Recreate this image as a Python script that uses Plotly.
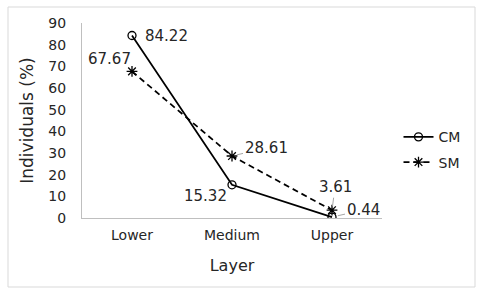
import plotly.graph_objects as go

layers = ["Lower", "Medium", "Upper"]
cm_values = [84.22, 15.32, 0.44]
sm_values = [67.67, 28.61, 3.61]
y_ticks = [0, 10, 20, 30, 40, 50, 60, 70, 80, 90]

FONT = "DejaVu Sans, Verdana, sans-serif"

fig = go.Figure()
fig.add_trace(go.Scatter(
    x=layers, y=cm_values, name="CM", mode="lines+markers", legendgroup="cm",
    line=dict(color="black", width=1.75),
    marker=dict(symbol="circle-open", size=8, color="black", line=dict(width=1.3)),
))
fig.add_trace(go.Scatter(
    x=layers, y=sm_values, name="SM", mode="lines+markers", legendgroup="sm",
    line=dict(color="black", width=1.75, dash="6px,4px"),
    marker=dict(symbol="asterisk-open", size=9, color="black", line=dict(width=1.3, color="black")),
))

annotations = []
# CM labels
cm_offsets = [dict(xshift=34, yshift=0), dict(xshift=-27, yshift=-11), None]
for i, (cat, v) in enumerate(zip(layers, cm_values)):
    txt = f"{v:.2f}"
    if cm_offsets[i] is not None:
        annotations.append(dict(x=cat, y=v, text=txt, showarrow=False, **cm_offsets[i]))
    else:
        annotations.append(dict(x=cat, y=v, text=txt, showarrow=True, ax=31, ay=-7,
                                arrowhead=0, arrowwidth=1, arrowcolor="#a6a6a6", standoff=6))
# SM labels
sm_specs = [dict(showarrow=False, xshift=-23, yshift=12),
            dict(showarrow=True, ax=34, ay=-8, arrowhead=0, arrowwidth=1, arrowcolor="#a6a6a6", standoff=5),
            dict(showarrow=True, ax=3, ay=-23, arrowhead=0, arrowwidth=1, arrowcolor="#a6a6a6", standoff=4)]
for cat, v, spec in zip(layers, sm_values, sm_specs):
    annotations.append(dict(x=cat, y=v, text=f"{v:.2f}", **spec))

for a in annotations:
    a["font"] = dict(family=FONT, size=15, color="#262626")
    a["xref"] = "x"
    a["yref"] = "y"

fig.update_layout(
    width=483, height=296,
    margin=dict(l=82, r=101, t=23, b=78, autoexpand=False),
    paper_bgcolor="white", plot_bgcolor="white",
    font=dict(family=FONT, size=14, color="#262626"),
    showlegend=True,
    legend=dict(x=1.055, y=0.35, xanchor="left", yanchor="middle",
                font=dict(family=FONT, size=14, color="#262626"),
                bgcolor="rgba(0,0,0,0)", itemwidth=30,
                traceorder="grouped", tracegroupgap=4),
    annotations=annotations,
    shapes=[dict(type="rect", xref="paper", yref="paper",
                 x0=(8 - 82) / 300, x1=(475 - 82) / 300,
                 y0=(218 - 287) / 195, y1=(218 - 7) / 195,
                 line=dict(color="#d9d9d9", width=1), fillcolor="rgba(0,0,0,0)", layer="below")],
)
fig.update_xaxes(
    type="category", range=[-0.5, 2.5], showgrid=False, zeroline=False, automargin=False,
    showline=True, linecolor="#bfbfbf", linewidth=1, ticks="",
    tickfont=dict(family=FONT, size=14, color="#262626"), ticklabelstandoff=4,
    title=dict(text="Layer", font=dict(family=FONT, size=16, color="#262626"), standoff=18),
)
fig.update_yaxes(
    range=[0, 90], tickvals=y_ticks, showgrid=False, zeroline=False, automargin=False,
    showline=True, linecolor="#bfbfbf", linewidth=1, ticks="",
    tickfont=dict(family=FONT, size=14, color="#262626"), ticklabelstandoff=12,
    title=dict(text="Individuals (%)", font=dict(family=FONT, size=17, color="#262626"), standoff=10),
)

fig.write_html("out.html", config={"displayModeBar": False},
               post_script="document.body.style.margin='0';document.body.style.overflow='hidden';")
